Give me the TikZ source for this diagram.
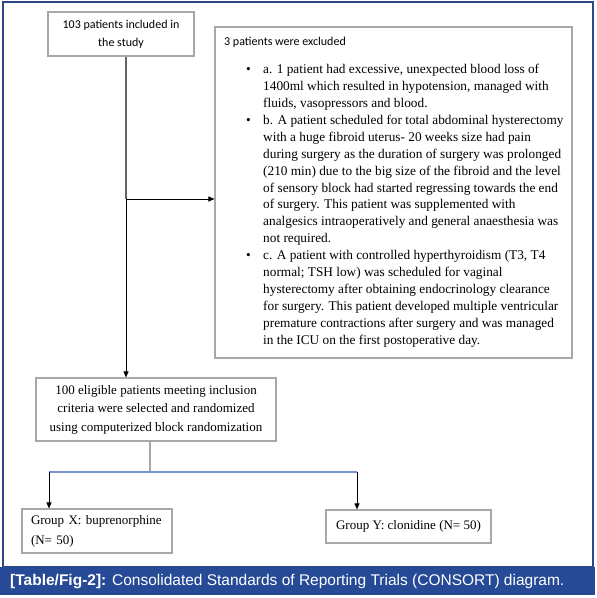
\documentclass[tikz,border=0pt]{standalone}
\usepackage{fontspec}
\setmainfont{Liberation Serif}
\newfontfamily\calfont{Carlito}
\newfontfamily\capfont{Liberation Sans}
\usetikzlibrary{arrows.meta}
\definecolor{framecol}{RGB}{44,72,135}
\definecolor{barcol}{RGB}{38,74,150}
\definecolor{boxgray}{RGB}{168,168,168}
\definecolor{linkblue}{RGB}{120,150,205}
\definecolor{stemgray}{RGB}{100,100,100}
\begin{document}
\begin{tikzpicture}[x=1pt,y=-1pt,
  box/.style={draw=boxgray,line width=1.1pt,fill=white,inner sep=0pt},
  arr/.style={draw=black,line width=0.9pt,-{Triangle[length=6pt,width=5pt]}},
  stem/.style={draw=stemgray,line width=1.2pt},
  blueline/.style={draw=linkblue,line width=1.2pt}]
\useasboundingbox (0,0) rectangle (597,598);
% frame and caption bar
\draw[framecol,line width=1.3pt] (3,2) rectangle (593,567);
\fill[barcol] (0,567) rectangle (595,595);
\node[anchor=west,inner sep=0pt,text=white,font=\capfont\fontsize{15.5}{18}\selectfont] (cap) at (10,582)
  {\textbf{[Table/Fig-2]:} Consolidated Standards of Reporting Trials (CONSORT) diagram.};
% boxes
\node[box,minimum width=146,minimum height=44,align=center,font=\calfont\fontsize{12}{18}\selectfont] (inc) at (121,34)
  {103 patients included in\\the study};
\node[box,minimum width=357,minimum height=331] (exc) at (393.5,192.5) {};
\node[anchor=west,inner sep=0pt,font=\calfont\fontsize{12}{14}\selectfont] (exchead) at (224,42) {3 patients were excluded};
\node[anchor=north west,inner sep=0pt,font=\fontsize{13.3}{16.9}\selectfont] (exclist) at (246,61.7)
  {\begin{tabular}{@{}p{17pt}@{}l@{}}
   \textbullet & a. 1 patient had excessive, unexpected blood loss of\\
   & 1400ml which resulted in hypotension, managed with\\
   & fluids, vasopressors and blood.\\
   \textbullet & b. A patient scheduled for total abdominal hysterectomy\\
   & with a huge fibroid uterus- 20 weeks size had pain\\
   & during surgery as the duration of surgery was prolonged\\
   & (210 min) due to the big size of the fibroid and the level\\
   & of sensory block had started regressing towards the end\\
   & of surgery. This patient was supplemented with\\
   & analgesics intraoperatively and general anaesthesia was\\
   & not required.\\
   \textbullet & c. A patient with controlled hyperthyroidism (T3, T4\\
   & normal; TSH low) was scheduled for vaginal\\
   & hysterectomy after obtaining endocrinology clearance\\
   & for surgery. This patient developed multiple ventricular\\
   & premature contractions after surgery and was managed\\
   & in the ICU on the first postoperative day.
  \end{tabular}};
\node[box,minimum width=240,minimum height=63,align=center,font=\fontsize{13}{18.5}\selectfont] (elig) at (156,409.5)
  {100 eligible patients meeting inclusion\\criteria were selected and randomized\\using computerized block randomization};
\node[box,minimum width=150,minimum height=44,align=left,text width=132,font=\fontsize{13}{20}\selectfont] (gx) at (97,531)
  {Group X: buprenorphine\\(N= 50)};
\node[box,minimum width=165,minimum height=33,font=\fontsize{13}{15}\selectfont] (gy) at (408.5,526.5)
  {Group Y: clonidine (N= 50)};
% connectors
\coordinate (j1) at (126,199);
\coordinate (j2) at (150,472);
\coordinate (jl) at (49,472);
\coordinate (jr) at (357,472);
\draw[stem] (inc.south -| j1) -- (j1);
\draw[arr] (j1) -- (j1 -| exc.west);
\draw[arr] (j1) -- (j1 |- elig.north);
\draw[stem,draw=boxgray] (elig.south -| j2) -- (j2);
\draw[blueline] (jl) -- (jr);
\draw[arr] (jl) -- (jl |- gx.north);
\draw[arr] (jr) -- (jr |- gy.north);
\end{tikzpicture}
\end{document}
